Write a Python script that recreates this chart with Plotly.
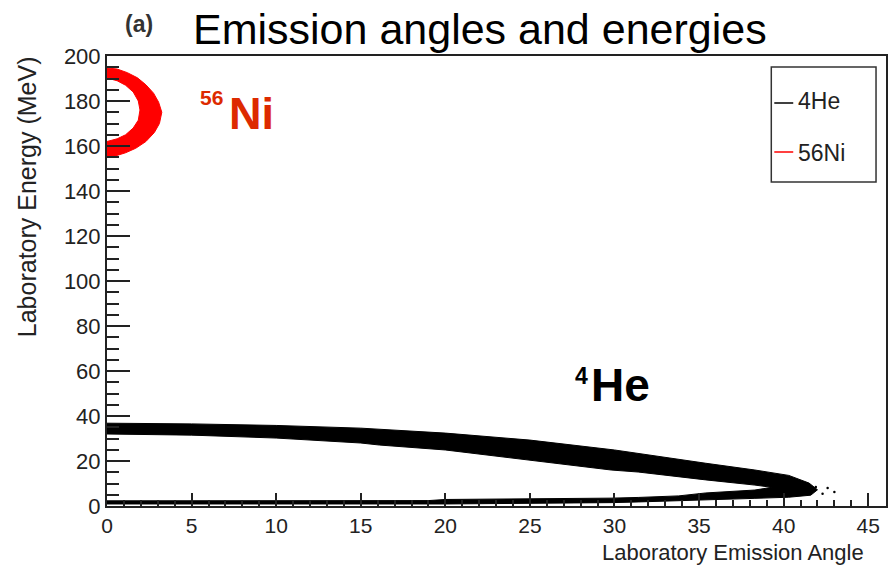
import plotly.graph_objects as go

# ---------------- data ----------------
# 4He band: outline of the dense point cloud (angle in deg, energy in MeV)
he_top_x = [0, 5, 10, 15, 20, 25, 30, 33.8, 35.4, 38.3, 40.3, 41.5, 42.0]
he_top_E = [36.8, 36.5, 35.8, 34.6, 32.4, 29.3, 24.9, 20.6, 19.0, 16.0, 13.6, 10.2, 7.2]
he_lowbot_x = [41.6, 40.3, 38.3, 35.4, 31.4, 29.8, 25, 20, 10, 0]
he_lowbot_E = [4.8, 3.9, 3.4, 2.6, 1.8, 1.5, 1.1, 0.9, 0.9, 0.9]
he_lowtop_x = [0, 10, 19, 20, 25, 29.8, 31.4, 33.8, 35.4, 38.3, 39.3]
he_lowtop_E = [2.3, 2.3, 2.4, 2.9, 3.1, 3.5, 3.8, 4.5, 5.8, 7.1, 8.3]
he_upbot_x = [38.3, 35.4, 33.8, 31.4, 29.8, 25, 20, 16.1, 15, 10, 5, 0]
he_upbot_E = [9.3, 11.6, 12.9, 15.1, 16.0, 20.4, 24.9, 27.1, 28.0, 30.2, 31.5, 32.0]
he_out_x = [41.9, 42.6, 43.0, 42.3]
he_out_E = [8.4, 8.0, 6.2, 5.5]

# 56Ni crescent: outer edge (top -> bottom) and inner edge (bottom -> top)
ni_outer_x = [0, 0.6, 1.2, 1.8, 2.3, 2.75, 3.05, 3.24, 3.1, 2.8, 2.3, 1.7, 1.1, 0.5, 0]
ni_outer_E = [194.7, 194.2, 192.6, 190.3, 187.2, 183.5, 179.5, 175.0, 170.0, 166.0, 162.0, 159.0, 157.0, 155.6, 155.2]
ni_inner_x = [0, 0.6, 1.1, 1.55, 1.85, 1.95, 1.85, 1.55, 1.1, 0.6, 0]
ni_inner_E = [162.0, 163.2, 165.0, 168.0, 171.5, 176.0, 180.0, 184.0, 187.0, 189.0, 190.2]

series_names = ["4He", "56Ni"]
series_colors = ["#000000", "#ff0000"]

x_range = [0, 46.05]
y_range = [0, 200]

title_text = "Emission angles and energies"
x_title = "Laboratory Emission Angle"
y_title = "Laboratory Energy (MeV)"

FONT = "Liberation Sans, Arial, Helvetica, sans-serif"

# ---------------- figure ----------------
fig = go.Figure()

he_x = he_top_x + he_lowbot_x + he_lowtop_x + he_upbot_x
he_E = he_top_E + he_lowbot_E + he_lowtop_E + he_upbot_E
fig.add_trace(go.Scatter(x=he_x, y=he_E, mode="lines", fill="toself",
                         fillcolor=series_colors[0],
                         line=dict(color=series_colors[0], width=1),
                         name=series_names[0], showlegend=False, hoverinfo="skip"))
fig.add_trace(go.Scatter(x=he_out_x, y=he_out_E, mode="markers",
                         marker=dict(color=series_colors[0], size=2.5),
                         showlegend=False, hoverinfo="skip"))

ni_x = ni_outer_x + ni_inner_x
ni_E = ni_outer_E + ni_inner_E
fig.add_trace(go.Scatter(x=ni_x, y=ni_E, mode="lines", fill="toself",
                         fillcolor=series_colors[1],
                         line=dict(color=series_colors[1], width=1),
                         name=series_names[1], showlegend=False, hoverinfo="skip"))

axis_common = dict(showgrid=False, zeroline=False, showline=True, linecolor="#222222",
                   linewidth=2, mirror=True, ticks="inside", tickcolor="#222222",
                   tickwidth=1.5)

fig.update_xaxes(range=x_range, dtick=5, tick0=0, ticklen=13,
                 tickfont=dict(family=FONT, size=21, color="#222222"),
                 minor=dict(dtick=1, ticks="inside", ticklen=6, tickcolor="#222222", tickwidth=1.5),
                 **axis_common)
fig.update_yaxes(range=y_range, dtick=20, tick0=0, ticklen=23,
                 tickfont=dict(family=FONT, size=22, color="#222222"),
                 minor=dict(dtick=5, ticks="inside", ticklen=12, tickcolor="#222222", tickwidth=1.5),
                 **axis_common)

L, R, T, B = 107, 3, 56, 59
W, H = 891, 565
pw, ph = W - L - R, H - T - B


def px(xp):
    return (xp - L) / pw


def py(yp):
    return 1 - (yp - T) / ph


annotations = [
    dict(text=title_text, x=px(481), y=py(29), xref="paper", yref="paper",
         showarrow=False, xanchor="center", yanchor="middle",
         font=dict(family=FONT, size=43, color="#000000")),
    dict(text="<b>(a)</b>", x=px(139), y=py(24), xref="paper", yref="paper",
         showarrow=False, xanchor="center", yanchor="middle",
         font=dict(family=FONT, size=23, color="#333333")),
    dict(text=x_title, x=px(735), y=py(552), xref="paper", yref="paper",
         showarrow=False, xanchor="center", yanchor="middle",
         font=dict(family=FONT, size=22, color="#222222")),
    dict(text=y_title, x=px(27), y=py(197), xref="paper", yref="paper",
         showarrow=False, xanchor="center", yanchor="middle", textangle=-90,
         font=dict(family=FONT, size=25, color="#222222")),
    # particle labels
    dict(text="<b>Ni</b>", x=8.52, y=174.5, xref="x", yref="y", showarrow=False,
         xanchor="center", yanchor="middle", font=dict(family=FONT, size=45, color="#dd2a00")),
    dict(text="<b>56</b>", x=6.19, y=181.6, xref="x", yref="y", showarrow=False,
         xanchor="center", yanchor="middle", font=dict(family=FONT, size=21, color="#dd2a00")),
    dict(text="<b>He</b>", x=30.34, y=53.6, xref="x", yref="y", showarrow=False,
         xanchor="center", yanchor="middle", font=dict(family=FONT, size=46, color="#000000")),
    dict(text="<b>4</b>", x=28.04, y=57.6, xref="x", yref="y", showarrow=False,
         xanchor="center", yanchor="middle", font=dict(family=FONT, size=23, color="#000000")),
]

# hand-drawn legend box (ROOT style)
shapes = [
    dict(type="rect", xref="paper", yref="paper", x0=px(773), x1=px(878), y0=py(182), y1=py(67),
         line=dict(color="#333333", width=1.5), fillcolor="white"),
]
leg_y_line = [103, 152]
leg_y_text = [101, 153]
for name, col, yl, yt in zip(series_names, series_colors, leg_y_line, leg_y_text):
    shapes.append(dict(type="line", xref="paper", yref="paper", x0=px(776), x1=px(795),
                       y0=py(yl), y1=py(yl), line=dict(color=col, width=1.5)))
    annotations.append(dict(text=name, x=px(798), y=py(yt), xref="paper", yref="paper",
                            showarrow=False, xanchor="left", yanchor="middle",
                            font=dict(family=FONT, size=23, color="#222222")))

fig.update_layout(width=W, height=H, autosize=False,
                  margin=dict(l=L, r=R, t=T, b=B, pad=0),
                  paper_bgcolor="white", plot_bgcolor="white",
                  annotations=annotations, shapes=shapes, showlegend=False)

fig.write_html("out.html")
